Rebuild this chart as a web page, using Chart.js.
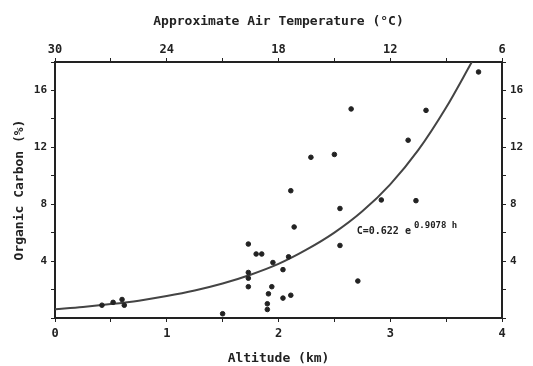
<!DOCTYPE html>
<html>
<head>
<meta charset="utf-8">
<script src="https://cdn.jsdelivr.net/npm/chart.js@4.4.0/dist/chart.umd.min.js"></script>
<style>
  body { margin: 0; background: #fff; }
  #wrap { width: 533px; height: 366px; }
</style>
</head>
<body>
<div id="wrap"><canvas id="myChart" width="533" height="366"></canvas></div>
<script>
// samples: altitude (km), organic carbon (%)
var altitude = [0.42, 0.52, 0.6, 0.62, 1.5, 1.73, 1.73, 1.73, 1.73, 1.8, 1.85, 1.91, 1.9, 1.9, 1.94, 1.95,
  2.04, 2.04, 2.09, 2.11, 2.11, 2.14, 2.29, 2.5, 2.55, 2.55, 2.65, 2.71, 2.92, 3.16, 3.23, 3.32, 3.79];
var carbon = [0.9, 1.1, 1.3, 0.9, 0.3, 5.2, 3.2, 2.8, 2.2, 4.5, 4.5, 1.7, 1.0, 0.6, 2.2, 3.9,
  3.4, 1.4, 4.3, 8.95, 1.6, 6.4, 11.3, 11.5, 7.7, 5.1, 14.7, 2.6, 8.3, 12.5, 8.25, 14.6, 17.3];

// fitted curve
var curveAlt = [0, 0.25, 0.5, 0.75, 1, 1.25, 1.5, 1.75, 2, 2.25, 2.5, 2.75, 3, 3.25, 3.5, 3.73];
var curveC = [0.62, 0.78, 0.98, 1.22, 1.54, 1.93, 2.42, 3.04, 3.8, 4.8, 6.0, 7.5, 9.4, 11.8, 14.8, 18];

var xTicks = [0, 1, 2, 3, 4];
var tempTicks = [30, 24, 18, 12, 6];
var yTicks = [4, 8, 12, 16];

var ink = '#222';
var fontFam = '"DejaVu Sans Mono", monospace';

var pts = [];
for (var i = 0; i < altitude.length; i++) pts.push({x: altitude[i], y: carbon[i]});
var curve = [];
for (var j = 0; j < curveAlt.length; j++) curve.push({x: curveAlt[j], y: curveC[j]});

var equation = {
  id: 'equation',
  afterDatasetsDraw: function(chart) {
    var c = chart.ctx;
    var x = chart.scales.x.getPixelForValue(2.7);
    var y = chart.scales.y.getPixelForValue(6.1);
    c.save();
    c.fillStyle = ink;
    c.font = 'bold 10px ' + fontFam;
    c.textBaseline = 'middle';
    c.fillText('C=0.622 e', x, y);
    var w = c.measureText('C=0.622 e').width;
    c.font = 'bold 9px ' + fontFam;
    c.fillText('0.9078 h', x + w + 3, y - 6);
    c.restore();
  }
};

function boxGrid() {
  return { drawOnChartArea: false, drawTicks: true, tickLength: 4, color: ink, lineWidth: 1 };
}

var ctx = document.getElementById('myChart').getContext('2d');
var chart = new Chart(ctx, {
  type: 'scatter',
  data: {
    datasets: [{
      label: 'samples',
      data: pts,
      backgroundColor: ink,
      borderColor: ink,
      pointRadius: 2.3,
      order: 1
    }, {
      label: 'fit',
      data: curve,
      showLine: true,
      borderColor: '#444',
      borderWidth: 2,
      pointRadius: 0,
      cubicInterpolationMode: 'monotone',
      order: 2
    }]
  },
  plugins: [equation],
  options: {
    responsive: false,
    animation: false,
    events: [],
    layout: { padding: 0 },
    plugins: { legend: { display: false }, tooltip: { enabled: false } },
    scales: {
      x: {
        type: 'linear', position: 'bottom', min: 0, max: 4,
        afterFit: function(s) { s.height = 48; },
        afterBuildTicks: function(s) {
          s.ticks = [0, 0.5, 1, 1.5, 2, 2.5, 3, 3.5, 4].map(function(v) { return {value: v}; });
        },
        ticks: {
          color: ink, font: {family: fontFam, size: 12, weight: 'bold'}, padding: 5, maxRotation: 0,
          callback: function(v) { return xTicks.indexOf(v) >= 0 ? String(v) : ''; }
        },
        grid: boxGrid(),
        border: { color: ink, width: 2 },
        title: { display: true, text: 'Altitude (km)', color: ink, font: {family: fontFam, size: 13, weight: 'bold'}, padding: {top: 6, bottom: 0} }
      },
      x2: {
        type: 'linear', position: 'top', min: 0, max: 4,
        afterFit: function(s) { s.height = 62; },
        afterBuildTicks: function(s) {
          s.ticks = [0, 0.5, 1, 1.5, 2, 2.5, 3, 3.5, 4].map(function(v) { return {value: v}; });
        },
        ticks: {
          color: ink, font: {family: fontFam, size: 12, weight: 'bold'}, padding: 1, maxRotation: 0,
          callback: function(v) { return xTicks.indexOf(v) >= 0 ? String(tempTicks[v]) : ''; }
        },
        grid: boxGrid(),
        border: { color: ink, width: 2 },
        title: { display: true, text: 'Approximate Air Temperature (\u00b0C)', color: ink, font: {family: fontFam, size: 13, weight: 'bold'}, padding: {top: 14, bottom: 8} }
      },
      y: {
        type: 'linear', position: 'left', min: 0, max: 18,
        afterFit: function(s) { s.width = 55; },
        afterBuildTicks: function(s) {
          s.ticks = [0, 2, 4, 6, 8, 10, 12, 14, 16, 18].map(function(v) { return {value: v}; });
        },
        ticks: {
          color: ink, font: {family: fontFam, size: 11, weight: 'bold'}, padding: 4,
          callback: function(v) { return yTicks.indexOf(v) >= 0 ? String(v) : ''; }
        },
        grid: boxGrid(),
        border: { color: ink, width: 2 },
        title: { display: true, text: 'Organic Carbon (%)', color: ink, font: {family: fontFam, size: 13, weight: 'bold'}, padding: {top: 12, bottom: 4} }
      },
      y2: {
        type: 'linear', position: 'right', min: 0, max: 18,
        afterFit: function(s) { s.width = 31; },
        afterBuildTicks: function(s) {
          s.ticks = [0, 2, 4, 6, 8, 10, 12, 14, 16, 18].map(function(v) { return {value: v}; });
        },
        ticks: {
          color: ink, font: {family: fontFam, size: 11, weight: 'bold'}, padding: 4,
          callback: function(v) { return yTicks.indexOf(v) >= 0 ? String(v) : ''; }
        },
        grid: boxGrid(),
        border: { color: ink, width: 2 }
      }
    }
  }
});
</script>
</body>
</html>
